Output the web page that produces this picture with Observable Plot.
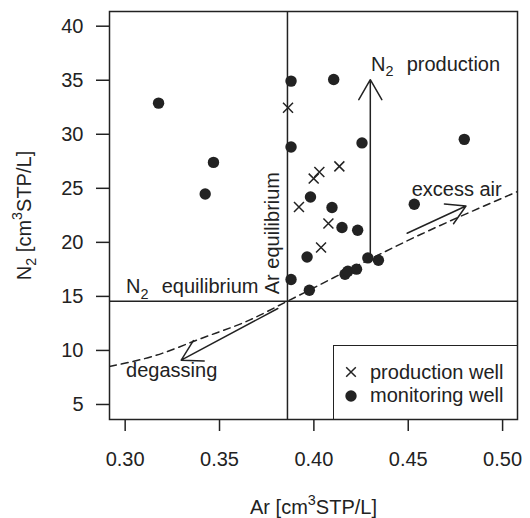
<!DOCTYPE html>
<html><head><meta charset="utf-8">
<script src="https://cdn.jsdelivr.net/npm/d3@7"></script>
<script src="https://cdn.jsdelivr.net/npm/@observablehq/plot@0.6"></script>
<style>
html,body{margin:0;padding:0;background:#fff;}
#wrap{position:relative;width:530px;height:518px;font-family:"Liberation Sans",Arial,sans-serif;color:#222;}
#legend{position:absolute;left:333px;top:345px;width:184px;height:74px;box-sizing:border-box;border-top:1.5px solid #222;border-left:1.5px solid #222;}
#legend .row{position:absolute;left:0;height:22px;display:flex;align-items:center;font-size:20px;white-space:nowrap;}
#legend svg{position:absolute;left:9px;}
#legend span{position:absolute;left:36px;}
</style></head><body><div id="wrap"></div>
<script>
// production wells
const arProd = [0.3863, 0.4029, 0.3999, 0.4135, 0.3921, 0.4077, 0.4038];
const n2Prod = [32.46, 26.51, 25.90, 27.03, 23.27, 21.74, 19.52];
// monitoring wells
const arMon = [0.3177, 0.3879, 0.3879, 0.3468, 0.3424, 0.3982, 0.4105, 0.4255, 0.4797, 0.4532, 0.4096,
               0.4149, 0.4232, 0.3964, 0.3879, 0.3976, 0.4165, 0.4180, 0.4226, 0.4286, 0.4342];
const n2Mon = [32.88, 34.92, 28.82, 27.40, 24.47, 24.20, 35.07, 29.20, 29.53, 23.52, 23.22,
               21.37, 21.12, 18.65, 16.56, 15.57, 17.05, 17.33, 17.52, 18.56, 18.35];
// axes
const xTicks = [0.30, 0.35, 0.40, 0.45, 0.50];
const yTicks = [5, 10, 15, 20, 25, 30, 35, 40];
const xDomain = [0.2917, 0.5079];
const yDomain = [3.61, 41.36];
// equilibrium
const arEq = 0.386;
const n2Eq = 14.56;
// degassing / excess air curve
const curveAr = [0.2917, 0.3155, 0.3403, 0.3658, 0.386, 0.4568, 0.5079];
const curveN2 = [8.52, 9.50, 11.11, 12.80, 14.56, 20.75, 24.70];
// arrows
const arrowName = ["N2 production", "excess air", "degassing"];
const arrowAr1 = [0.4299, 0.4494, 0.3809];
const arrowN21 = [18.45, 20.84, 13.88];
const arrowAr2 = [0.4299, 0.4806, 0.3297];
const arrowN22 = [35.05, 23.36, 9.10];
// annotations
const noteText = ["N_2~production", "excess air", "degassing", "N_2~equilibrium", "Ar equilibrium"];
const noteAr = [0.4303, 0.4518, 0.3005, 0.3005, 0.3781];
const noteN2 = [36.46, 24.92, 8.15, 15.88, 15.20];
const noteRotate = [0, 0, 0, 0, -90];
// legend
const legendLabels = ["production well", "monitoring well"];

const ink = "#222";
const fs = 20;

const prod = arProd.map((a, i) => ({ar: a, n2: n2Prod[i]}));
const mon = arMon.map((a, i) => ({ar: a, n2: n2Mon[i]}));
const curve = curveAr.map((a, i) => ({ar: a, n2: curveN2[i]}));
const arrows = arrowName.map((n, i) => ({name: n, x1: arrowAr1[i], y1: arrowN21[i], x2: arrowAr2[i], y2: arrowN22[i]}));
const notes = noteText.map((t, i) => ({t, ar: noteAr[i], n2: noteN2[i], rot: noteRotate[i]}));

const plot = Plot.plot({
  width: 530, height: 518,
  marginTop: 11, marginRight: 13, marginBottom: 99, marginLeft: 109,
  style: {fontFamily: '"Liberation Sans", Arial, sans-serif', fontSize: fs + "px", color: ink, background: "#fff"},
  x: {domain: xDomain},
  y: {domain: yDomain},
  marks: [
    Plot.axisX({ticks: xTicks, tickFormat: d => d.toFixed(2), tickSize: 12, tickPadding: 20, strokeWidth: 1.5,
      fontSize: fs, label: "Ar [cm^3STP/L]", labelAnchor: "center", labelOffset: 94, labelArrow: "none"}),
    Plot.axisY({ticks: yTicks, tickSize: 13, tickPadding: 13, strokeWidth: 1.5,
      fontSize: fs, label: "N_2 [cm^3STP/L]", labelAnchor: "center", labelOffset: 93, labelArrow: "none"}),
    Plot.ruleX([arEq], {stroke: ink, strokeWidth: 1.5}),
    Plot.ruleY([n2Eq], {stroke: ink, strokeWidth: 1.5}),
    Plot.line(curve, {x: "ar", y: "n2", curve: "monotone-x", stroke: ink, strokeWidth: 1.5, strokeDasharray: "7,5", clip: true}),
    Plot.arrow(arrows, {x1: "x1", y1: "y1", x2: "x2", y2: "y2", stroke: ink, strokeWidth: 1.5, headLength: 23, headAngle: 60}),
    Plot.dot(prod, {x: "ar", y: "n2", symbol: "times", r: 4.6, stroke: ink, strokeWidth: 1.5}),
    Plot.dot(mon, {x: "ar", y: "n2", r: 5.7, fill: ink}),
    Plot.text(notes, {x: "ar", y: "n2", text: "t", rotate: "rot", textAnchor: "start", lineAnchor: "middle", fontSize: fs, fill: ink}),
    Plot.frame({stroke: ink, strokeWidth: 1.5})
  ]
});

const wrap = document.getElementById("wrap");
wrap.appendChild(plot);

// rich text: _x subscript, ^x superscript, ~ extra gap
const NS = "http://www.w3.org/2000/svg";
d3.select(plot).selectAll("text").each(function() {
  const el = this;
  const s = el.textContent;
  if (!/[_^~]/.test(s)) return;
  const size = parseFloat(getComputedStyle(el).fontSize) || fs;
  while (el.firstChild) el.removeChild(el.firstChild);
  let shift = 0, pendingDx = 0;
  for (const tok of s.match(/(_\w|\^\w|~|[^_^~]+)/g)) {
    if (tok === "~") { pendingDx += size * 0.38; continue; }
    let target = 0, txt = tok, small = false;
    if (tok[0] === "_") { target = size * 0.28; txt = tok.slice(1); small = true; }
    else if (tok[0] === "^") { target = -size * 0.42; txt = tok.slice(1); small = true; }
    const t = document.createElementNS(NS, "tspan");
    t.setAttribute("dy", target - shift);
    shift = target;
    if (pendingDx) { t.setAttribute("dx", pendingDx); pendingDx = 0; txt = " " + txt.trimStart(); }
    if (small) t.setAttribute("font-size", size * 0.72);
    t.textContent = txt;
    el.appendChild(t);
  }
});

// legend
const legend = document.createElement("div");
legend.id = "legend";
legendLabels.forEach((lab, i) => {
  const row = document.createElement("div");
  row.className = "row";
  row.style.top = (i === 0 ? 15.2 : 38.5) + "px";
  row.style.width = "180px";
  const sym = i === 0
    ? `<svg width="16" height="16" viewBox="-8 -8 16 16"><path d="M-4.8,-4.8L4.8,4.8M-4.8,4.8L4.8,-4.8" stroke="${ink}" stroke-width="1.5"/></svg>`
    : `<svg width="16" height="16" viewBox="-8 -8 16 16"><circle r="5.7" fill="${ink}"/></svg>`;
  row.innerHTML = sym + `<span>${lab}</span>`;
  legend.appendChild(row);
});
wrap.appendChild(legend);
</script>
</body></html>
